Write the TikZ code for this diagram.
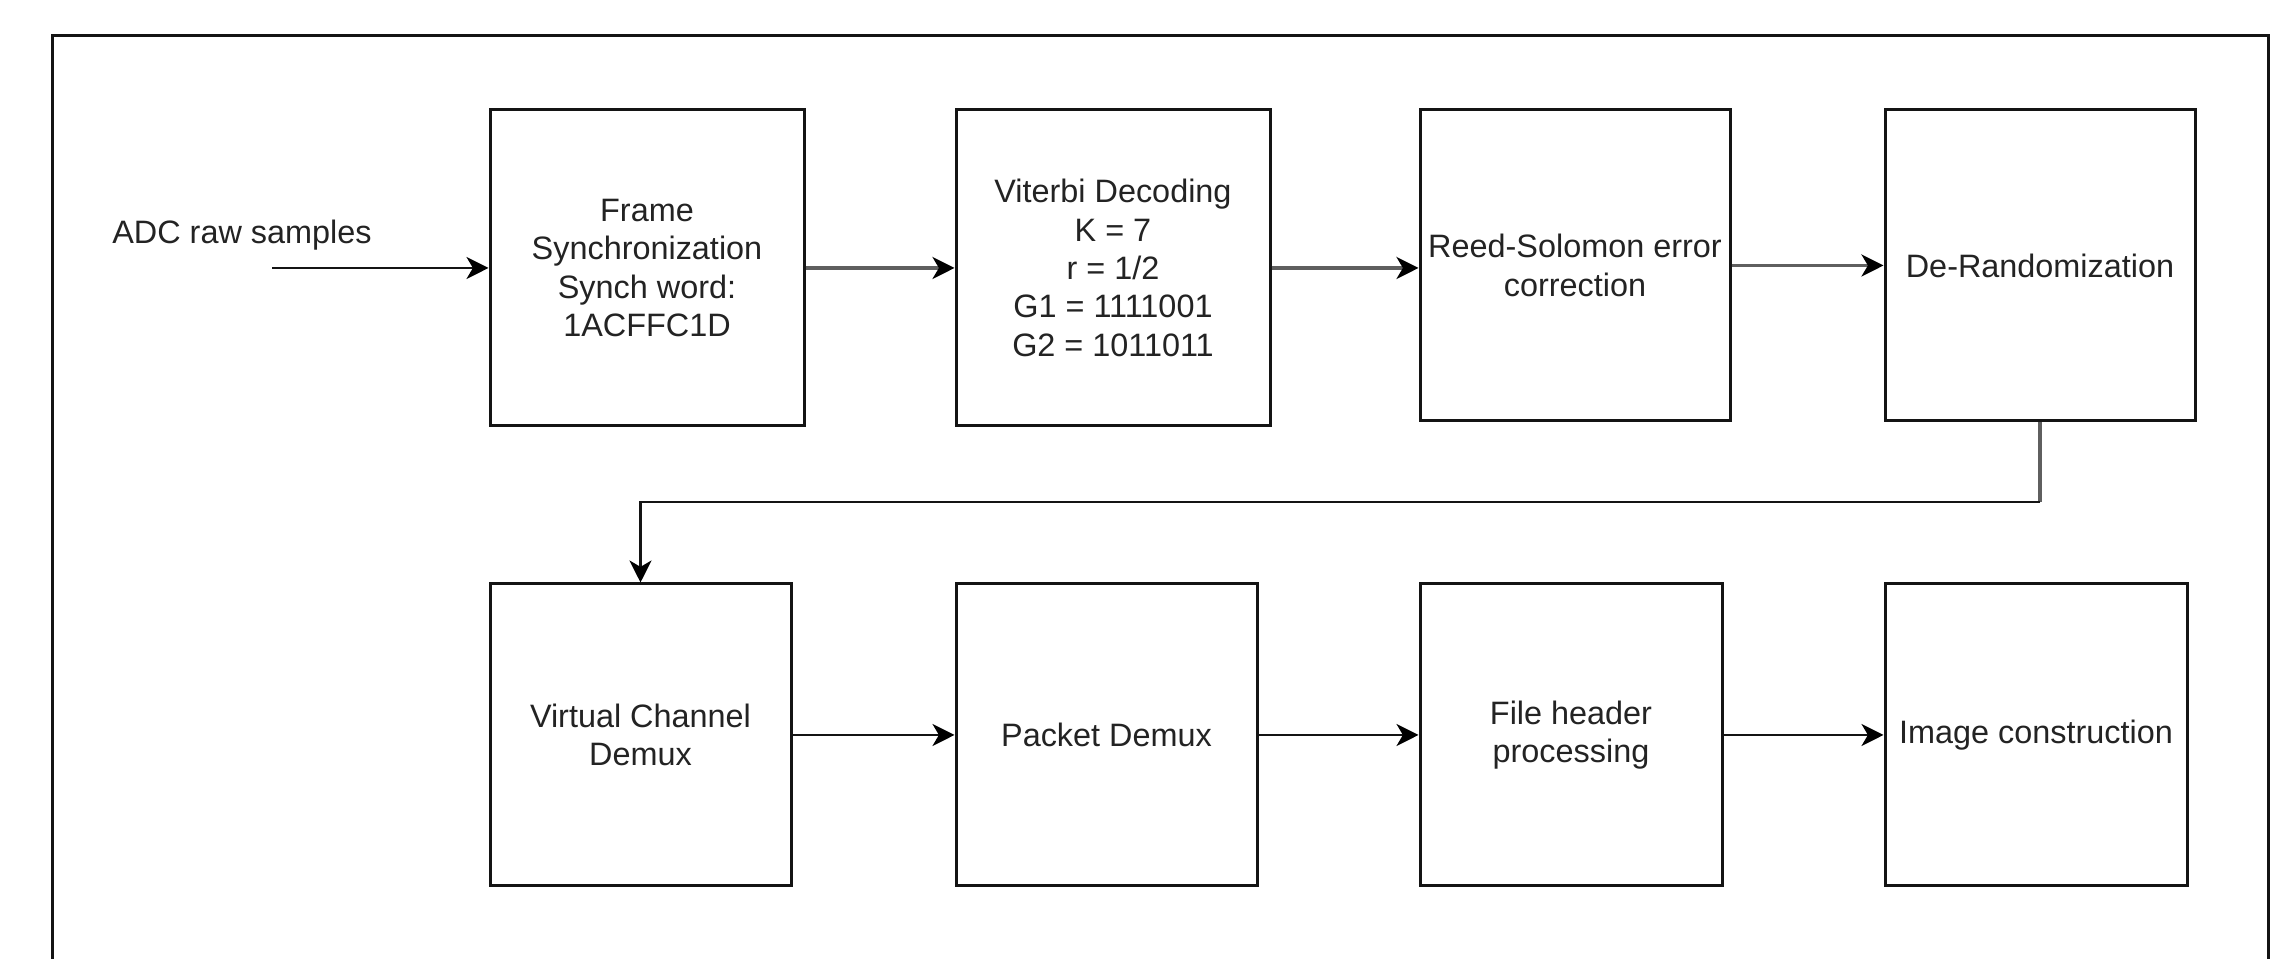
\documentclass[tikz,border=0pt]{standalone}
\usepackage{fontspec}
\setmainfont{Liberation Sans}
\usetikzlibrary{arrows.meta}

\definecolor{inkline}{RGB}{20,20,20}
\definecolor{softline}{RGB}{95,95,95}
\definecolor{inktext}{RGB}{35,35,35}

\tikzset{
  block/.style={draw=inkline, line width=0.75pt, fill=white, inner sep=0pt,
                align=center, text=inktext,
                font=\fontsize{8.1}{9.6}\selectfont},
  flow/.style={draw=inkline, line width=0.55pt,
               -{Stealth[length=5.5pt,width=5.5pt,inset=1.6pt,color=black]}},
  softflow/.style={flow, draw=softline, line width=0.85pt},
  plain/.style={text=inktext, inner sep=0pt, font=\fontsize{8.1}{9.6}\selectfont}
}

\begin{document}
\begin{tikzpicture}[x=0.25pt, y=-0.25pt]
  % canvas
  \useasboundingbox (0,0) rectangle (2296,959);
  \fill[white] (0,0) rectangle (2296,959);

  % enclosing frame (its lower edge lies below the canvas)
  \draw[inkline, line width=0.75pt] (52,980) -- (52,36) -- (2268,36) -- (2268,980);

  % first row of processing stages
  \node[block, minimum width=78.5pt, minimum height=79pt] (sync) at (647,268)
    {Frame\\Synchronization\\Synch word:\\1ACFFC1D};
  \node[block, minimum width=78.5pt, minimum height=79pt] (vit) at (1113,268)
    {Viterbi Decoding\\K = 7\\r = 1/2\\G1 = 1111001\\G2 = 1011011};
  \node[block, minimum width=77.5pt, minimum height=77.75pt] (rs) at (1575,265.5)
    {Reed-Solomon error\\correction};
  \node[block, minimum width=77.5pt, minimum height=77.75pt] (derand) at (2040,265.5)
    {De-Randomization};

  % second row of processing stages
  \node[block, minimum width=75.25pt, minimum height=75.5pt] (vcd) at (640.5,735)
    {Virtual Channel\\Demux};
  \node[block, minimum width=75.25pt, minimum height=75.5pt] (pkt) at (1106.5,735)
    {Packet Demux};
  \node[block, minimum width=75.5pt, minimum height=75.5pt] (fhp) at (1571,735)
    {File header\\processing};
  \node[block, minimum width=75.5pt, minimum height=75.5pt] (img) at (2036,735)
    {Image construction};

  % input
  \node[plain] (adc) at (242,235) {ADC raw samples};
  \coordinate (adcin) at (272,268);
  \draw[flow] (adcin) -- (sync.west);

  % first row connectors
  \draw[softflow] (sync.east) -- (vit.west);
  \draw[softflow] (vit.east) -- (vit.east -| rs.west);
  \draw[softflow] (rs.east) -- (derand.west);

  % wrap-around to the second row
  \coordinate (wrap) at (0,502);
  \draw[softline, line width=0.85pt] (derand.south) -- (derand.south |- wrap);
  \draw[flow] (derand.south |- wrap) -| (vcd.north);

  % second row connectors
  \draw[flow] (vcd.east) -- (pkt.west);
  \draw[flow] (pkt.east) -- (fhp.west);
  \draw[flow] (fhp.east) -- (img.west);
\end{tikzpicture}
\end{document}
